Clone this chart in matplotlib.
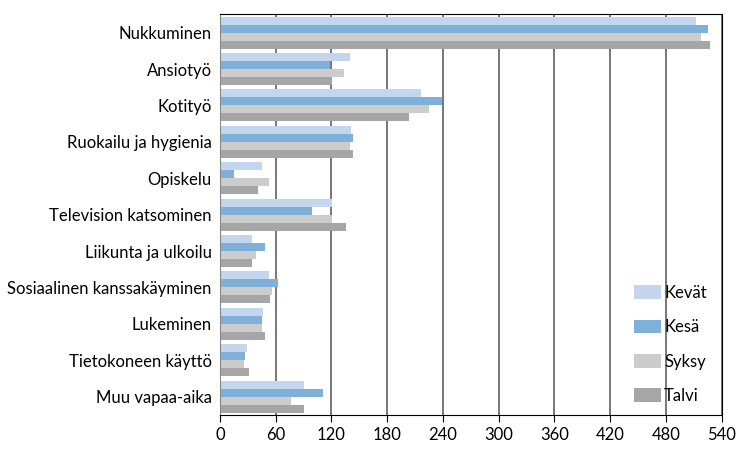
import numpy as np
import matplotlib.pyplot as plt

plt.rcParams['font.family'] = ['Lato', 'DejaVu Sans']

categories = ['Nukkuminen', 'Ansiotyö', 'Kotityö', 'Ruokailu ja hygienia', 'Opiskelu',
              'Television katsominen', 'Liikunta ja ulkoilu', 'Sosiaalinen kanssakäyminen',
              'Lukeminen', 'Tietokoneen käyttö', 'Muu vapaa-aika']
kevat = [512, 140, 216, 141, 45, 121, 35, 53, 46, 29, 91]
kesa = [525, 118, 239, 143, 15, 99, 49, 62, 45, 27, 111]
syksy = [518, 134, 225, 140, 53, 121, 39, 56, 45, 26, 77]
talvi = [527, 121, 203, 143, 41, 136, 34, 54, 49, 31, 91]
series = [('Kevät', kevat, '#c3d6ee'), ('Kesä', kesa, '#7eb0d8'),
          ('Syksy', syksy, '#cccccc'), ('Talvi', talvi, '#a6a6a6')]
ticks = [0, 60, 120, 180, 240, 300, 360, 420, 480, 540]

fig = plt.figure(figsize=(7.38, 4.5), dpi=100)
ax = fig.add_axes([0.298, 0.078, 0.68, 0.89])

y = np.arange(len(categories))
h = 0.22
for i, (name, vals, col) in enumerate(series):
    ax.barh(y + (i - 1.5) * h, vals, height=h, color=col, label=name, zorder=2)

ax.set_ylim(len(categories) - 0.5, -0.5)
ax.set_xlim(0, 540)
ax.set_xticks(ticks)
ax.set_yticks(y)
ax.set_yticklabels(categories, fontsize=12)
ax.tick_params(axis='x', labelsize=12, direction='out', length=5, color='black')
ax.tick_params(axis='y', length=0, pad=6)
ax.grid(axis='x', color='#606060', linewidth=1.2, zorder=1)
ax.set_axisbelow(True)
for s in ['top', 'right', 'bottom']:
    ax.spines[s].set_color('black')
ax.spines['left'].set_color('#888888')

ax.legend(loc='lower right', frameon=False, fontsize=12, handlelength=1.6,
          handleheight=0.9, labelspacing=1.1, handletextpad=0.2,
          bbox_to_anchor=(1.0, -0.01))

fig.savefig('out.png', dpi=100)
